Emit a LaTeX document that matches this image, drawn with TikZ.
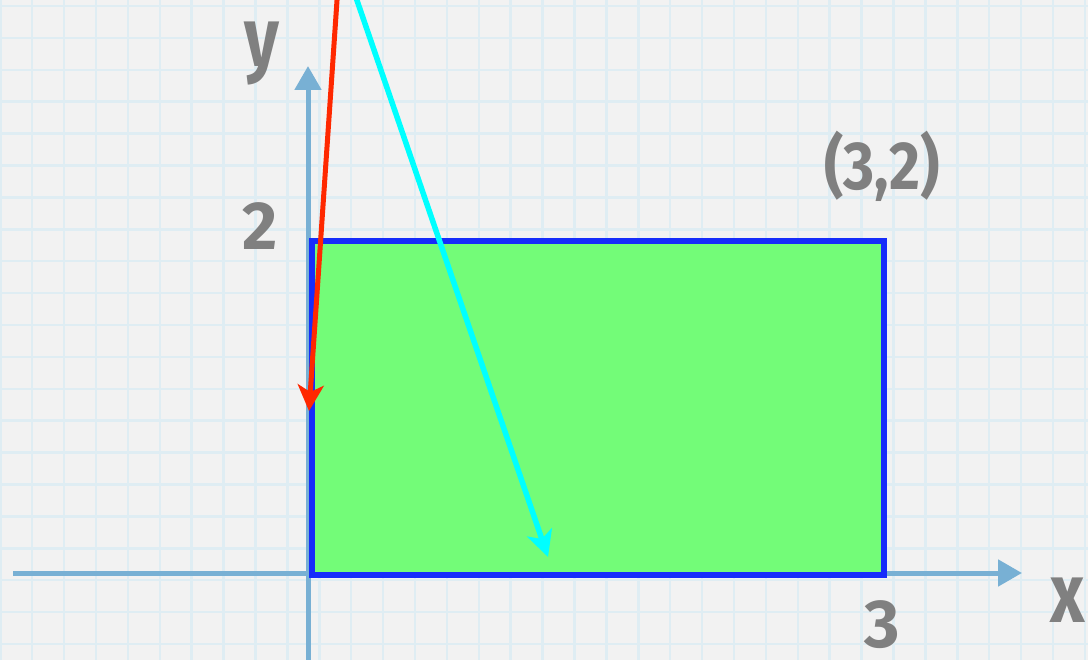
\documentclass[tikz,border=0pt]{standalone}
\usepackage{fontspec}
\setmainfont{Fira Sans}
\usetikzlibrary{arrows.meta}
\definecolor{bg}{RGB}{242,242,242}
\definecolor{gridc}{RGB}{223,237,243}
\definecolor{axisc}{RGB}{120,176,212}
\definecolor{rectfill}{RGB}{115,252,120}
\definecolor{rectline}{RGB}{22,44,250}
\definecolor{redc}{RGB}{255,40,0}
\definecolor{cyanc}{RGB}{0,255,255}
\definecolor{txt}{RGB}{128,128,128}
\tikzset{
  gridline/.style={gridc, line width=2.5pt},
  axis/.style={axisc, line width=5pt, -{Triangle[length=24pt,width=26pt]}},
  box/.style={draw=rectline, fill=rectfill, line width=6pt, inner sep=0pt, anchor=north west},
  vecred/.style={redc, line width=5pt, -{Stealth[length=26pt,width=26pt,inset=7pt]}},
  veccyan/.style={cyanc, line width=5.5pt, -{Stealth[length=26pt,width=26pt,inset=7pt]}},
  lbl/.style={txt, font=\bfseries\fontsize{68}{68}\selectfont, inner sep=0pt},
  lblv/.style={txt, font=\bfseries\fontsize{84}{84}\selectfont, inner sep=0pt, xscale=0.8}
}
\begin{document}
\begin{tikzpicture}[x=1pt,y=-1pt]
\useasboundingbox (0,0) rectangle (1088,660);
\clip (0,0) rectangle (1088,660);
\fill[bg] (0,0) rectangle (1088,660);
\foreach \i in {0,...,34} \draw[gridline] (0.3+31.9*\i,0) -- ++(0,660);
\foreach \j in {0,...,20} \draw[gridline] (0,6+31.9*\j) -- ++(1088,0);
% axes
\coordinate (xs) at (13,573);
\coordinate (xe) at (1022,573);
\coordinate (ys) at (308,665);
\coordinate (ye) at (308,66);
\draw[axis] (xs) -- (xe);
\draw[axis] (ys) -- (ye);
% rectangle
\node[box, minimum width=572pt, minimum height=334pt] (rect) at (309,238) {};
% vectors
\coordinate (rs) at (338.4,-20);
\coordinate (re) at (309,411);
\coordinate (cs) at (350,-20);
\coordinate (ce) at (548,557);
\draw[vecred] (rs) -- (re);
\draw[veccyan] (cs) -- (ce);
% labels
\node[lblv] (ylab) at (262,54) {y};
\node[lbl] (two) at (260,226) {2};
\node[lbl, xscale=0.88] (pt) at (882,166) {(3,2)};
\node[lblv] (xlab) at (1068,600) {x};
\node[lbl] (three) at (882,625) {3};
\end{tikzpicture}
\end{document}
